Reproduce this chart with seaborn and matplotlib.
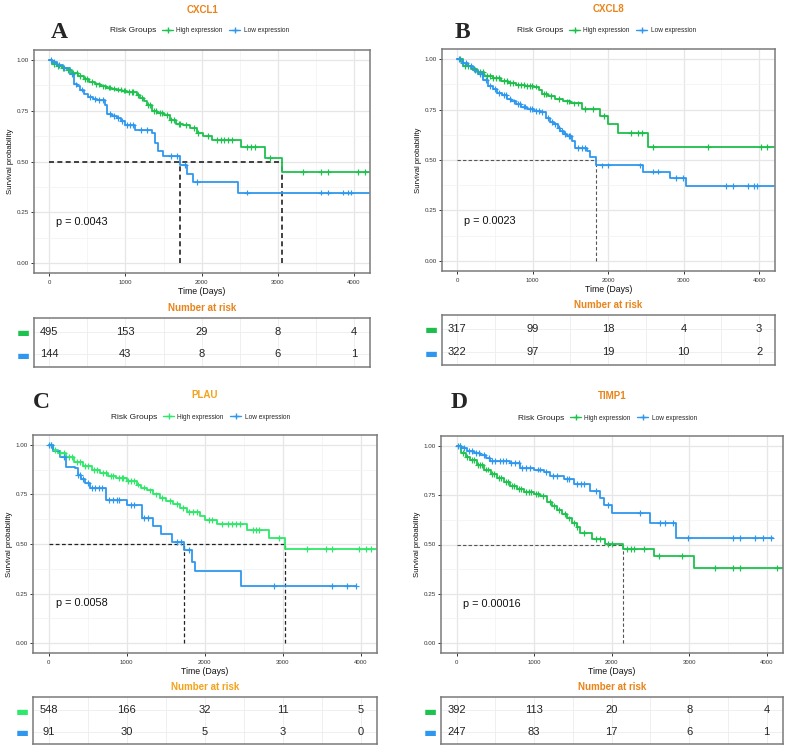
import numpy as np
import pandas as pd
import seaborn as sns
import matplotlib.pyplot as plt
from matplotlib.lines import Line2D
from matplotlib.ticker import MultipleLocator

# ---- data ---------------------------------------------------------------

GROUPS = ["High expression", "Low expression"]
RISK_TIMES = [0, 1000, 2000, 3000, 4000]

# CXCL1
A_HIGH_T = [0, 40, 100, 170, 230, 300, 380, 450, 520, 600, 670, 750, 820, 890, 960, 1020,
            1150, 1190, 1240, 1280, 1345, 1420, 1500, 1585, 1670, 1760, 1850, 1935, 2020,
            2130, 2520, 2830, 3050, 4200]
A_HIGH_S = [1.00, 0.98, 0.97, 0.96, 0.95, 0.935, 0.92, 0.905, 0.89, 0.88, 0.87, 0.865, 0.86,
            0.855, 0.85, 0.842, 0.83, 0.815, 0.80, 0.78, 0.75, 0.74, 0.73, 0.705, 0.685, 0.68,
            0.665, 0.64, 0.625, 0.604, 0.571, 0.517, 0.449, 0.449]
A_HIGH_C = [60, 120, 180, 250, 310, 360, 400, 470, 500, 560, 620, 650, 700, 730, 780, 800,
            850, 900, 940, 980, 1000, 1050, 1080, 1100, 1170, 1220, 1300, 1320, 1380, 1400,
            1450, 1480, 1550, 1600, 1640, 1700, 1720, 1800, 1900, 1950, 2080, 2200, 2250,
            2300, 2350, 2400, 2600, 2650, 2700, 2900, 3330, 3570, 3660, 4050, 4140]
A_LOW_T = [0, 40, 100, 180, 275, 320, 360, 405, 460, 515, 580, 625, 735, 755, 820, 886, 940,
           996, 1127, 1345, 1390, 1432, 1498, 1716, 1803, 1882, 2480, 4200]
A_LOW_S = [1.0, 0.99, 0.975, 0.96, 0.93, 0.88, 0.87, 0.855, 0.835, 0.82, 0.81, 0.805, 0.78,
           0.736, 0.725, 0.715, 0.70, 0.68, 0.657, 0.64, 0.59, 0.55, 0.525, 0.483, 0.44,
           0.398, 0.347, 0.347]
A_LOW_C = [20, 60, 130, 200, 300, 350, 430, 540, 600, 650, 700, 800, 850, 900, 960, 1020,
           1060, 1100, 1200, 1280, 1600, 1680, 1780, 1940, 2590, 3570, 3660, 3860, 3920, 3965]
A_RISK_HIGH = [495, 153, 29, 8, 4]
A_RISK_LOW = [144, 43, 8, 6, 1]

# CXCL8
B_HIGH_T = [0, 75, 184, 270, 360, 470, 579, 680, 776, 900, 1018, 1083, 1127, 1210, 1303,
            1400, 1500, 1654, 1895, 2004, 2136, 2531, 4200]
B_HIGH_S = [1.0, 0.967, 0.95, 0.935, 0.917, 0.905, 0.892, 0.88, 0.87, 0.865, 0.864, 0.847,
            0.826, 0.815, 0.804, 0.79, 0.78, 0.754, 0.717, 0.676, 0.635, 0.565, 0.565]
B_HIGH_C = [40, 100, 150, 220, 300, 340, 400, 430, 480, 520, 560, 620, 660, 700, 740, 800,
            850, 880, 930, 960, 990, 1050, 1150, 1180, 1250, 1350, 1450, 1480, 1550, 1600,
            1700, 1800, 1950, 2300, 2400, 2450, 2600, 3320, 4020, 4110]
B_LOW_T = [0, 60, 140, 210, 272, 340, 404, 470, 535, 600, 667, 720, 776, 850, 930, 1020,
           1105, 1171, 1230, 1281, 1330, 1368, 1410, 1456, 1522, 1566, 1719, 1763, 1845,
           2465, 2816, 3035, 4200]
B_LOW_S = [1.0, 0.98, 0.965, 0.945, 0.925, 0.895, 0.867, 0.85, 0.834, 0.82, 0.804, 0.79,
           0.776, 0.765, 0.754, 0.745, 0.738, 0.71, 0.69, 0.676, 0.66, 0.643, 0.63, 0.618,
           0.593, 0.56, 0.543, 0.515, 0.473, 0.443, 0.41, 0.369, 0.369]
B_LOW_C = [30, 80, 120, 180, 240, 300, 330, 380, 430, 500, 560, 620, 650, 700, 750, 800,
           830, 880, 900, 960, 990, 1050, 1080, 1130, 1200, 1260, 1300, 1350, 1390, 1430,
           1480, 1500, 1600, 1650, 1700, 1917, 2004, 2421, 2596, 2662, 2904, 2991, 3561,
           3649, 3846, 3934, 3978]
B_RISK_HIGH = [317, 99, 18, 4, 3]
B_RISK_LOW = [322, 97, 19, 10, 2]

# PLAU
C_HIGH_T = [0, 50, 120, 227, 330, 442, 550, 656, 760, 870, 999, 1128, 1190, 1256, 1340,
            1428, 1510, 1599, 1680, 1771, 1942, 2006, 2157, 2542, 2821, 3035, 4200]
C_HIGH_S = [1.0, 0.975, 0.96, 0.94, 0.915, 0.895, 0.875, 0.86, 0.845, 0.833, 0.82, 0.80,
            0.785, 0.77, 0.75, 0.73, 0.715, 0.70, 0.68, 0.66, 0.64, 0.62, 0.60, 0.571, 0.53,
            0.476, 0.476]
C_HIGH_C = [30, 80, 150, 200, 260, 300, 360, 400, 470, 500, 580, 620, 700, 730, 800, 830,
            900, 940, 960, 1020, 1060, 1100, 1150, 1220, 1300, 1380, 1450, 1550, 1650, 1720,
            1800, 1850, 1900, 2050, 2100, 2220, 2300, 2350, 2400, 2450, 2620, 2660, 2700,
            2950, 3314, 3550, 3636, 3979, 4064, 4129]
C_LOW_T = [0, 56, 141, 227, 334, 377, 420, 463, 527, 742, 999, 1192, 1342, 1441, 1578,
           1736, 1835, 1878, 2465, 3936]
C_LOW_S = [1.0, 0.97, 0.94, 0.89, 0.883, 0.85, 0.83, 0.807, 0.782, 0.723, 0.698, 0.633,
           0.593, 0.55, 0.512, 0.47, 0.41, 0.363, 0.287, 0.287]
C_LOW_C = [10, 30, 200, 380, 400, 440, 500, 560, 600, 650, 690, 780, 830, 880, 900, 1050,
           1100, 1220, 1280, 1650, 1700, 1800, 2885, 3636, 3828, 3936]
C_RISK_HIGH = [548, 166, 32, 11, 5]
C_RISK_LOW = [91, 30, 5, 3, 0]

# TIMP1
D_HIGH_T = [0, 52, 120, 180, 260, 352, 440, 524, 610, 695, 780, 867, 1000, 1082, 1167, 1230,
            1296, 1360, 1425, 1490, 1554, 1597, 1747, 1918, 2146, 2541, 3056, 4215]
D_HIGH_S = [1.0, 0.963, 0.945, 0.929, 0.905, 0.88, 0.858, 0.836, 0.815, 0.797, 0.78, 0.768,
            0.757, 0.746, 0.717, 0.695, 0.675, 0.655, 0.632, 0.61, 0.59, 0.56, 0.527, 0.502,
            0.475, 0.44, 0.381, 0.381]
D_HIGH_C = [40, 90, 140, 200, 230, 280, 300, 330, 380, 400, 460, 480, 550, 580, 640, 660,
            720, 740, 800, 830, 900, 930, 960, 1020, 1050, 1120, 1200, 1260, 1320, 1400,
            1450, 1520, 1560, 1650, 1800, 1850, 1950, 2000, 2200, 2250, 2283, 2412, 2605,
            2906, 3335, 3571, 3657, 4129]
D_LOW_T = [0, 60, 137, 220, 309, 380, 438, 695, 824, 996, 1124, 1210, 1382, 1511, 1725,
           1854, 1897, 2004, 2489, 2833, 4077]
D_LOW_S = [1.0, 0.99, 0.975, 0.965, 0.954, 0.94, 0.925, 0.912, 0.89, 0.88, 0.866, 0.847,
           0.83, 0.807, 0.773, 0.734, 0.70, 0.66, 0.61, 0.534, 0.534]
D_LOW_C = [20, 50, 100, 160, 200, 250, 290, 350, 420, 460, 500, 560, 600, 640, 700, 760,
           800, 850, 900, 950, 1050, 1080, 1160, 1250, 1300, 1420, 1450, 1550, 1600, 1650,
           1800, 1950, 2369, 2627, 2691, 2798, 2991, 3571, 3657, 3850, 3957, 4052]
D_RISK_HIGH = [392, 113, 20, 8, 4]
D_RISK_LOW = [247, 83, 17, 6, 1]

GENES = ["CXCL1", "CXCL8", "PLAU", "TIMP1"]
LETTERS = ["A", "B", "C", "D"]
PVALUES = ["p = 0.0043", "p = 0.0023", "p = 0.0058", "p = 0.00016"]

# ---- layout (pixel boxes in the 793x750 canvas) ---------------------------
W, H = 793, 750
PANELS = [
    dict(km=(34, 50, 370, 273), tab=(34, 318, 370, 367), letter=(59, 32), legend=(110, 31),
         green="#1EC24F", orange="#E8841A", med_col="#222222", med_lw=1.2),
    dict(km=(442, 49, 775, 271), tab=(442, 315, 775, 365), letter=(462, 32), legend=(517, 31),
         green="#1EBE4C", orange="#E8841A", med_col="#555555", med_lw=0.8),
    dict(km=(33, 435, 377, 653), tab=(33, 697, 377, 744), letter=(41, 402), legend=(111, 417),
         green="#2EE86A", orange="#F5A21B", med_col="#222222", med_lw=0.9),
    dict(km=(441, 436, 783, 653), tab=(441, 697, 783, 744), letter=(459, 402), legend=(518, 418),
         green="#1EC24F", orange="#E8841A", med_col="#555555", med_lw=0.8),
]
BLUE = "#2F98EE"


def rect(box):
    x0, y0, x1, y1 = box
    return [x0 / W, 1 - y1 / H, (x1 - x0) / W, (y1 - y0) / H]


def fpos(x, y):
    return x / W, 1 - y / H


def curve_frames(high, low):
    steps, cens = [], []
    for name, (t, s, c) in zip(GROUPS, [high, low]):
        t, s = np.asarray(t, float), np.asarray(s, float)
        steps.append(pd.DataFrame({"time": t, "surv": s, "group": name}))
        idx = np.searchsorted(t, c, side="right") - 1
        cens.append(pd.DataFrame({"time": c, "surv": s[idx], "group": name}))
    return pd.concat(steps), pd.concat(cens)


def median_time(t, s):
    below = np.nonzero(np.asarray(s) <= 0.5)[0]
    return t[below[0]] if len(below) else None


def draw_panel(fig, spec, gene, letter, pval, high, low, risk_high, risk_low):
    palette = {GROUPS[0]: spec["green"], GROUPS[1]: BLUE}
    df_steps, df_cens = curve_frames(high, low)

    ax = fig.add_axes(rect(spec["km"]))
    ax.set_xlim(-200, 4210)
    ax.set_ylim(-0.05, 1.05)
    ax.xaxis.set_major_locator(MultipleLocator(1000))
    ax.xaxis.set_minor_locator(MultipleLocator(500))
    ax.yaxis.set_major_locator(MultipleLocator(0.25))
    ax.yaxis.set_minor_locator(MultipleLocator(0.125))
    ax.yaxis.set_major_formatter(lambda v, _: f"{v:.2f}")
    ax.grid(which="major", color="#E6E6E6", lw=0.9)
    ax.grid(which="minor", color="#F1F1F1", lw=0.5)
    ax.set_axisbelow(True)
    ax.tick_params(which="minor", length=0)
    ax.tick_params(axis="x", labelsize=4.3, pad=3)
    ax.tick_params(axis="y", labelsize=4.5, pad=1.5)

    # median lines
    meds = [m for m in (median_time(high[0], high[1]), median_time(low[0], low[1])) if m]
    if meds:
        ax.plot([0, max(meds)], [0.5, 0.5], ls=(0, (3, 2)), color=spec["med_col"],
                lw=spec["med_lw"], zorder=1)
        for m in meds:
            ax.plot([m, m], [0, 0.5], ls=(0, (3, 2)), color=spec["med_col"],
                    lw=spec["med_lw"], zorder=1)

    sns.lineplot(data=df_steps, x="time", y="surv", hue="group", palette=palette,
                 drawstyle="steps-post", estimator=None, errorbar=None, sort=False,
                 lw=1.3, legend=False, ax=ax, zorder=2)
    sns.scatterplot(data=df_cens, x="time", y="surv", hue="group", palette=palette,
                    marker="+", s=18, linewidth=0.85, legend=False, ax=ax, zorder=3)

    ax.text(90, 0.2, pval, fontsize=7.8, ha="left", va="center", color="#111111")
    ax.set_xlabel("Time (Days)", fontsize=6.3, labelpad=1.5)
    ax.set_ylabel("Survival probability", fontsize=5.6, labelpad=2)

    x0, y0, x1, y1 = spec["km"]
    cx = (x0 + x1) / 2
    fig.text(*fpos(cx, y0 - 40), gene, fontsize=7, fontweight="bold",
             color=spec["orange"], ha="center", va="center")
    fig.text(*fpos(*spec["letter"]), letter, fontsize=17, fontweight="bold",
             family="Liberation Serif", ha="center", va="center")

    lx, ly = spec["legend"]
    fig.text(*fpos(lx, ly), "Risk Groups", fontsize=6, ha="left", va="center",
             color="#222222")
    handles = [Line2D([], [], color=palette[g], marker="+", markersize=4, lw=1)
               for g in GROUPS]
    fig.legend(handles, GROUPS, loc="center left", bbox_to_anchor=fpos(lx + 52, ly),
               ncol=2, frameon=False, fontsize=4.7, handlelength=1.7,
               handletextpad=0.5, columnspacing=1.0, borderpad=0, borderaxespad=0)

    # risk table
    tab = fig.add_axes(rect(spec["tab"]))
    tab.set_xlim(-200, 4210)
    tab.set_ylim(-0.55, 1.6)
    tab.xaxis.set_major_locator(MultipleLocator(1000))
    tab.xaxis.set_minor_locator(MultipleLocator(500))
    tab.set_yticks([1, 0])
    tab.grid(which="both", axis="x", color="#EDEDED", lw=0.6)
    tab.grid(which="major", axis="y", color="#EDEDED", lw=0.6)
    tab.set_axisbelow(True)
    tab.tick_params(axis="x", which="both", length=0, labelbottom=False)
    tab.tick_params(axis="y", length=0, pad=3, labelsize=10)
    tab.set_yticklabels(["\u25ac", "\u25ac"], family="DejaVu Sans")
    for lab, g in zip(tab.get_yticklabels(), GROUPS):
        lab.set_color(palette[g])
    tab.set_xlabel("")
    tab.set_ylabel("")
    for row, counts in zip([1, 0], [risk_high, risk_low]):
        for t, n in zip(RISK_TIMES, counts):
            tab.text(t, row, str(n), fontsize=8, ha="center", va="center",
                     color="#222222")
    tx0, ty0, tx1, _ = spec["tab"]
    fig.text(*fpos((tx0 + tx1) / 2, ty0 - 10), "Number at risk", fontsize=7,
             fontweight="bold", color=spec["orange"], ha="center", va="center")
    for a in (ax, tab):
        for sp in a.spines.values():
            sp.set_color("#7A7A7A")
            sp.set_linewidth(1.1)


sns.set_theme(
    style="white",
    rc={
        "xtick.bottom": True,
        "ytick.left": True,
        "xtick.major.size": 2.2,
        "ytick.major.size": 2.2,
        "xtick.major.width": 0.7,
        "ytick.major.width": 0.7,
        "xtick.color": "#333333",
        "ytick.color": "#333333",
        "axes.labelcolor": "#111111",
    },
)
plt.rcParams["font.family"] = ["Liberation Sans", "DejaVu Sans"]

fig = plt.figure(figsize=(W / 100, H / 100), dpi=100)
curves = [
    ((A_HIGH_T, A_HIGH_S, A_HIGH_C), (A_LOW_T, A_LOW_S, A_LOW_C), A_RISK_HIGH, A_RISK_LOW),
    ((B_HIGH_T, B_HIGH_S, B_HIGH_C), (B_LOW_T, B_LOW_S, B_LOW_C), B_RISK_HIGH, B_RISK_LOW),
    ((C_HIGH_T, C_HIGH_S, C_HIGH_C), (C_LOW_T, C_LOW_S, C_LOW_C), C_RISK_HIGH, C_RISK_LOW),
    ((D_HIGH_T, D_HIGH_S, D_HIGH_C), (D_LOW_T, D_LOW_S, D_LOW_C), D_RISK_HIGH, D_RISK_LOW),
]
for spec, gene, letter, pval, (hi, lo, rh, rl) in zip(PANELS, GENES, LETTERS, PVALUES, curves):
    draw_panel(fig, spec, gene, letter, pval, hi, lo, rh, rl)

fig.savefig("out.png", dpi=100)
